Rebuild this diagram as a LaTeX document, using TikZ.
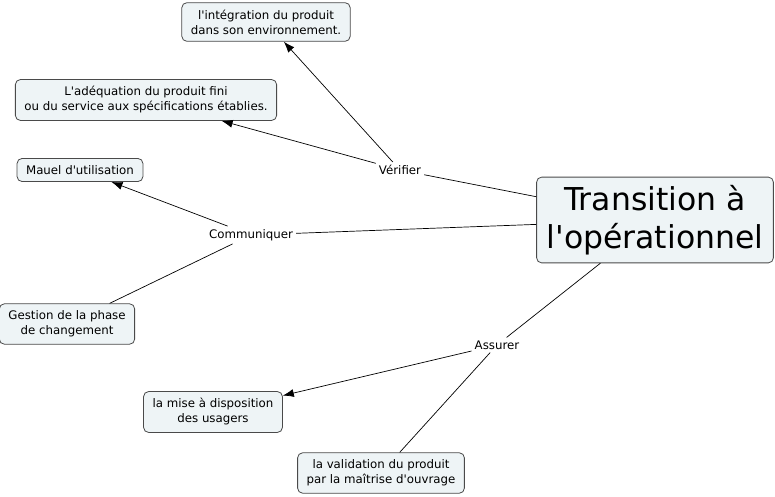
\documentclass[tikz,border=0pt]{standalone}
\usepackage{fontspec}
\setmainfont{DejaVu Sans}[Ligatures=TeXOff]
\usetikzlibrary{arrows.meta}

\definecolor{conceptfill}{HTML}{EEF4F6}
\definecolor{conceptline}{HTML}{4A4A4A}

\tikzset{
    concept/.style={draw=conceptline, fill=conceptfill, rounded corners=5pt,
        line width=0.8pt, align=center, inner xsep=9pt, inner ysep=7pt,
        font=\fontsize{11.8}{15}\selectfont},
    linkword/.style={inner sep=3pt, font=\fontsize{11.8}{15}\selectfont},
    link/.style={line width=0.7pt},
    linkto/.style={link, -{Latex[length=11pt,width=8pt]}}
}

\begin{document}
\begin{tikzpicture}[x=1pt, y=-1pt]

    \useasboundingbox (0, 0) rectangle (775, 497);

    % Central concept
    \node[concept, inner xsep=10pt, inner ysep=8pt,
        font=\fontsize{31.5}{38}\selectfont] (transition) at (655, 220)
        {Transition à\\l'opérationnel};

    % Linking words
    \node[linkword] (verifier) at (400, 170) {Vérifier};
    \node[linkword] (communiquer) at (251, 235) {Communiquer};
    \node[linkword] (assurer) at (497, 345) {Assurer};

    % Concepts around
    \node[concept] (integration) at (266, 22)
        {l'intégration du produit\\dans son environnement.};
    \node[concept] (adequation) at (146, 100)
        {L'adéquation du produit fini\\ou du service aux spécifications établies.};
    \node[concept] (manuel) at (80, 170) {Mauel d'utilisation};
    \node[concept] (gestion) at (67, 324) {Gestion de la phase\\de changement};
    \node[concept] (mise) at (213, 412) {la mise à disposition\\des usagers};
    \node[concept] (validation) at (381, 473)
        {la validation du produit\\par la maîtrise d'ouvrage};

    % Vérifier
    \draw[link] (transition) -- (verifier);
    \draw[linkto] (verifier) -- (integration);
    \draw[linkto] (verifier) -- (adequation);

    % Communiquer
    \draw[link] (transition) -- (communiquer);
    \draw[linkto] (communiquer) -- (manuel);
    \draw[link] (communiquer) -- (gestion);

    % Assurer
    \draw[link] (transition) -- (assurer);
    \draw[linkto] (assurer) -- (mise);
    \draw[link] (assurer) -- (validation);

\end{tikzpicture}
\end{document}
